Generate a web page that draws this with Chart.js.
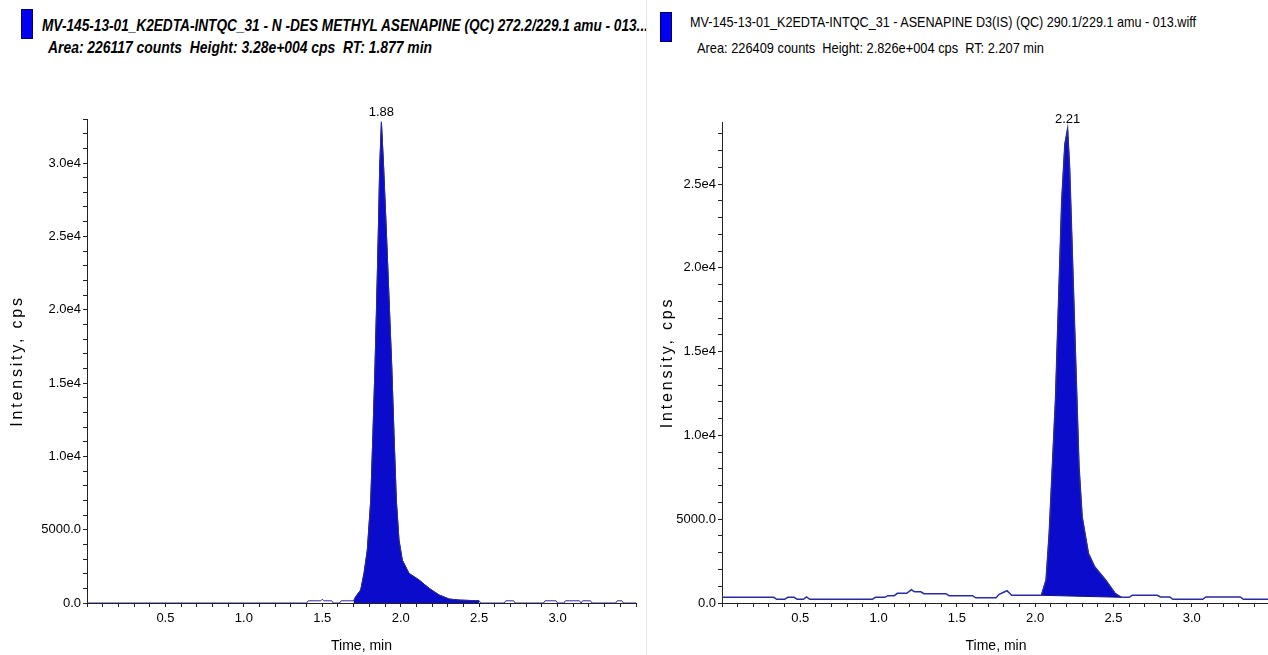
<!DOCTYPE html>
<html>
<head>
<meta charset="utf-8">
<title>XIC</title>
<script src="https://cdn.jsdelivr.net/npm/chart.js@4.4.1/dist/chart.umd.min.js"></script>
<style>
  html, body { margin: 0; padding: 0; background: #fff; width: 1268px; height: 655px; overflow: hidden; }
  .panel { position: absolute; top: 0; height: 655px; }
  #leftPanel { left: 0; width: 645px; }
  #rightPanel { left: 650px; width: 625px; }
  #divider { position: absolute; left: 646px; top: 0; width: 1px; height: 655px; background: #e4e4e4; }
  .swatch { position: absolute; width: 10px; height: 28px; background: #0000f2; border: 1px solid #00005a; }
  .hdr { position: absolute; white-space: pre; font-family: "Liberation Sans", Arial, sans-serif; color: #000;
         line-height: 1; transform-origin: 0 0; }
  .bi { font-weight: bold; font-style: italic; font-size: 17px; }
  .rg { font-size: 15px; }
  canvas { position: absolute; top: 0; }
</style>
</head>
<body>
<div id="leftPanel" class="panel">
  <div class="swatch" style="left:21px; top:9px;"></div>
  <div class="hdr bi" data-w="606" style="left:42px; top:17px;">MV-145-13-01_K2EDTA-INTQC_31 - N -DES METHYL ASENAPINE (QC) 272.2/229.1 amu - 013...</div>
  <div class="hdr bi" data-w="384" style="left:48px; top:39px;">Area: 226117 counts  Height: 3.28e+004 cps  RT: 1.877 min</div>
  <canvas id="leftChart" width="645" height="655" style="left:0"></canvas>
</div>
<div id="divider"></div>
<div id="rightPanel" class="panel">
  <div class="swatch" style="left:10px; top:12px;"></div>
  <div class="hdr rg" data-w="506" style="left:40px; top:14px;">MV-145-13-01_K2EDTA-INTQC_31 - ASENAPINE D3(IS) (QC) 290.1/229.1 amu - 013.wiff</div>
  <div class="hdr rg" data-w="347" style="left:47px; top:40px;">Area: 226409 counts  Height: 2.826e+004 cps  RT: 2.207 min</div>
  <canvas id="rightChart" width="625" height="655" style="left:0"></canvas>
</div>

<script>
// N-desmethyl asenapine trace, 272.2/229.1
const leftTime = [0.00, 1.40, 1.41, 1.49, 1.50, 1.51, 1.56, 1.57, 1.61, 1.62, 1.70,
  1.713, 1.745, 1.766, 1.787, 1.809, 1.823, 1.836, 1.847, 1.857, 1.866, 1.877,
  1.891, 1.909, 1.926, 1.943, 1.957, 1.972, 1.989, 2.01, 2.053, 2.117, 2.181, 2.245,
  2.309, 2.372, 2.50, 2.51, 2.66, 2.67, 2.72, 2.73, 2.91, 2.92, 2.99, 3.00, 3.04,
  3.05, 3.14, 3.15, 3.16, 3.21, 3.22, 3.37, 3.38, 3.41, 3.42, 3.50];
const leftIntensity = [0, 0, 150, 150, 260, 150, 150, 0, 0, 150, 150,
  430, 890, 2020, 3610, 7020, 11570, 16110, 20650, 25200, 29740, 32800,
  29740, 25200, 20650, 16110, 11570, 7020, 4290, 2930, 2020, 1570, 1000, 545,
  270, 200, 150, 0, 0, 150, 150, 0, 0, 150, 150, 0, 0,
  150, 150, 0, 150, 150, 0, 0, 150, 150, 0, 0];
const leftPeakWindow = [1.70, 2.50];

// asenapine D3 (IS) trace, 290.1/229.1
const rightTime = [0.00, 0.33, 0.35, 0.40, 0.42, 0.46, 0.48, 0.52, 0.54, 0.56, 0.96,
  0.98, 1.04, 1.06, 1.10, 1.12, 1.18, 1.21, 1.23, 1.27, 1.29, 1.43, 1.45, 1.60,
  1.62, 1.75, 1.77, 1.82, 1.85, 2.04, 2.07, 2.09, 2.11, 2.13, 2.15, 2.17, 2.19,
  2.207, 2.22, 2.24, 2.26, 2.28, 2.30, 2.34, 2.38, 2.45, 2.51, 2.55, 2.60, 2.62,
  2.78, 2.80, 2.86, 2.88, 3.07, 3.09, 3.31, 3.33, 3.50];
const rightIntensity = [340, 340, 220, 220, 340, 340, 220, 220, 360, 220, 220,
  340, 340, 440, 440, 575, 575, 790, 670, 670, 555, 555, 435, 435,
  310, 310, 515, 730, 460, 460, 1370, 4150, 8110, 12080, 18040, 23990, 27360,
  28260, 25970, 20020, 14070, 8110, 5140, 2960, 2160, 1370, 580, 340, 340, 460,
  460, 360, 360, 220, 220, 360, 360, 220, 220];
const rightPeakWindow = [2.04, 2.55];
// integration baseline under the IS peak
const rightBaseTime = [2.04, 2.55];
const rightBaseIntensity = [460, 340];

// axes: minor ticks every 0.1 min / 1000 cps, labels every 0.5 min / 5000 cps
const xRange = [0, 3.5];
const xTickStep = 0.1;
const yTickStep = 1000;
const leftYMax = 33000;
const rightYMax = 28700;

const FILL = '#0b0bcb';
const EDGE = '#10107a';
const TRACE = '#2a2aa2';
const SANS = '"Liberation Sans", Arial, sans-serif';

function toPoints(ts, vs) {
  return ts.map((t, i) => ({ x: t, y: vs[i] }));
}

function inWindow(ts, vs, win) {
  return toPoints(ts, vs).filter(p => p.x >= win[0] - 1e-9 && p.x <= win[1] + 1e-9);
}

function yLabel(v) {
  if (v % 5000 !== 0) return '';
  if (v === 0) return '0.0';
  if (v < 10000) return v.toFixed(1);
  return (v / 10000).toFixed(1) + 'e4';
}

function xLabel(v) {
  const r = Math.round(v * 10);
  return (r % 5 === 0 && r > 0 && r < 35) ? (r / 10).toFixed(1) : '';
}

// writes the retention time above the apex of the first dataset
const apexLabel = {
  id: 'apexLabel',
  afterDatasetsDraw(chart) {
    const ds = chart.data.datasets[0].data;
    let best = 0;
    ds.forEach((p, i) => { if (p.y > ds[best].y) best = i; });
    const el = chart.getDatasetMeta(0).data[best];
    const ctx = chart.ctx;
    ctx.save();
    ctx.font = '13px ' + SANS;
    ctx.fillStyle = '#000';
    ctx.textAlign = 'center';
    ctx.textBaseline = 'bottom';
    ctx.fillText(ds[best].x.toFixed(2), el.x, el.y - 3);
    ctx.restore();
  }
};

// spaced-out vertical axis caption
const yCaption = {
  id: 'yCaption',
  afterDraw(chart) {
    const a = chart.chartArea;
    const ctx = chart.ctx;
    ctx.save();
    ctx.translate(18, (a.top + a.bottom) / 2);
    ctx.rotate(-Math.PI / 2);
    ctx.font = '16px ' + SANS;
    ctx.letterSpacing = '2.8px';
    ctx.fillStyle = '#000';
    ctx.textAlign = 'center';
    ctx.textBaseline = 'middle';
    ctx.fillText('Intensity, cps', 0, 0);
    ctx.restore();
  }
};

function makeChart(id, datasets, yMax, yWidth, pad) {
  return new Chart(document.getElementById(id), {
    type: 'line',
    data: { datasets },
    options: {
      responsive: false,
      animation: false,
      events: [],
      layout: { padding: pad },
      elements: { point: { radius: 0 }, line: { tension: 0, borderWidth: 1 } },
      plugins: { legend: { display: false }, tooltip: { enabled: false } },
      scales: {
        x: {
          type: 'linear', min: xRange[0], max: xRange[1], z: 1,
          border: { color: '#222', width: 1 },
          grid: { drawOnChartArea: false, tickLength: 4, color: '#222' },
          ticks: { stepSize: xTickStep, autoSkip: false, maxRotation: 0, padding: 4,
                   color: '#000', font: { family: SANS, size: 13 }, callback: xLabel },
          title: { display: true, text: 'Time, min', color: '#000',
                   font: { family: SANS, size: 14 }, padding: { top: 0, bottom: 0 } },
          afterFit(s) { s.height = 52; }
        },
        y: {
          min: 0, max: yMax,
          border: { color: '#222', width: 1 },
          grid: { drawOnChartArea: false, tickLength: 4, color: '#222' },
          ticks: { autoSkip: false, padding: 2,
                   color: '#000', font: { family: SANS, size: 13 }, callback: yLabel },
          afterBuildTicks(s) {
            const t = [];
            for (let v = 0; v <= yMax; v += yTickStep) t.push({ value: v });
            s.ticks = t;
          },
          afterFit(s) { s.width = yWidth; }
        }
      }
    },
    plugins: [apexLabel, yCaption]
  });
}

makeChart('leftChart', [
  { data: toPoints(leftTime, leftIntensity), borderColor: TRACE, fill: false, order: 0 },
  { data: inWindow(leftTime, leftIntensity, leftPeakWindow), borderColor: EDGE,
    backgroundColor: FILL, fill: 'origin', order: 1 }
], leftYMax, 87, { top: 119, right: 9, left: 0, bottom: 0 });

makeChart('rightChart', [
  { data: toPoints(rightTime, rightIntensity), borderColor: TRACE, borderWidth: 1.5, fill: false, order: 0 },
  { data: toPoints(rightBaseTime, rightBaseIntensity), borderColor: EDGE, fill: false, order: 1 },
  { data: inWindow(rightTime, rightIntensity, rightPeakWindow), borderColor: EDGE,
    backgroundColor: FILL, fill: 1, order: 2 }
], rightYMax, 72, { top: 122, right: 5, left: 0, bottom: 0 });

// squeeze header lines to the width of the narrow instrument font
document.querySelectorAll('.hdr').forEach(el => {
  const w = el.getBoundingClientRect().width;
  el.style.transform = 'scaleX(' + (Number(el.dataset.w) / w) + ')';
});
</script>
</body>
</html>
